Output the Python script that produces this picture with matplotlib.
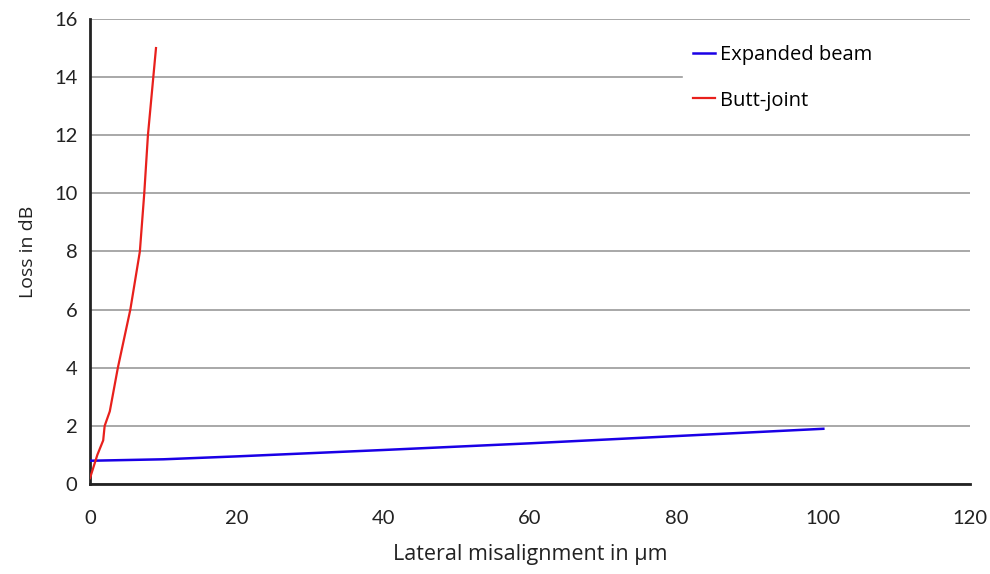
import matplotlib.pyplot as plt

# Datos
butt_x = [0, 1.0, 1.8, 2.0, 2.7, 3.8, 5.5, 6.8, 7.4, 7.9, 9.0]
butt_y = [0.2, 1.0, 1.5, 2.0, 2.5, 4.0, 6.0, 8.0, 10.0, 12.0, 15.0]

beam_x = [0, 10, 20, 40, 60, 80, 100]
beam_y = [0.8, 0.85, 0.95, 1.17, 1.4, 1.65, 1.9]

x_ticks = [0, 20, 40, 60, 80, 100, 120]
y_ticks = [0, 2, 4, 6, 8, 10, 12, 14, 16]

fig = plt.figure(figsize=(9.9, 5.74), dpi=100)
ax = fig.add_axes([0.0909, 0.1568, 0.8889, 0.8101])

ax.plot(beam_x, beam_y, color='#1a00e6', linewidth=1.8, label='Expanded beam', zorder=3)
ax.plot(butt_x, butt_y, color='#e8201c', linewidth=1.6, label='Butt-joint', zorder=3)

ax.set_xlim(0, 120)
ax.set_ylim(0, 16)
ax.set_xticks(x_ticks)
ax.set_yticks(y_ticks)
ax.tick_params(length=0, labelsize=14.5, colors='#222222')
ax.tick_params(axis='y', pad=9)
ax.tick_params(axis='x', pad=19)
for lab in ax.get_xticklabels() + ax.get_yticklabels():
    lab.set_fontfamily('Lato')

ax.grid(axis='y', color='#9a9a9a', linewidth=1.2, zorder=0)
ax.set_axisbelow(True)
for s in ['top', 'right']:
    ax.spines[s].set_visible(False)
ax.spines['left'].set_linewidth(2)
ax.spines['bottom'].set_linewidth(2)
ax.spines['left'].set_color('#222222')
ax.spines['bottom'].set_color('#222222')

ax.set_xlabel('Lateral misalignment in µm', fontsize=15.5, family='Open Sans', color='#222222', labelpad=12)
ax.set_ylabel('Loss in dB', fontsize=14, family='Open Sans', color='#222222', labelpad=12)

# leyenda ancha que tapa la linea de 14 hasta el borde derecho
leg = ax.legend(loc='upper left', bbox_to_anchor=(0.674, 0.775, 0.326, 0.19), mode='expand',
                frameon=True, fancybox=False, edgecolor='white', facecolor='white', framealpha=1,
                handlelength=1.1, handletextpad=0.25, labelspacing=1.25, borderpad=0.5,
                borderaxespad=0, prop={'family': 'Open Sans', 'size': 14.5})
leg.set_zorder(5)

fig.savefig('out.png', dpi=100)
